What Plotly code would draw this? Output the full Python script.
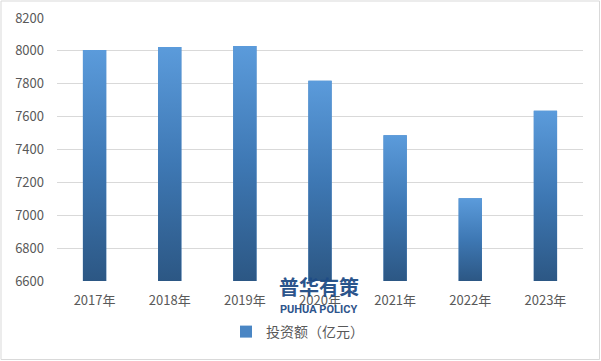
import plotly.graph_objects as go

categories = ["2017年", "2018年", "2019年", "2020年", "2021年", "2022年", "2023年"]
values = [8006, 8024, 8030, 7818, 7487, 7103, 7635]
series_name = "投资额（亿元）"
y_ticks = [6600, 6800, 7000, 7200, 7400, 7600, 7800, 8000, 8200]

Y_MIN, Y_MAX = 6600, 8200
BAR_W = 0.31
FONT = "Noto Sans CJK SC, Noto Sans, sans-serif"
TXT = "#595959"

fig = go.Figure()

idx = list(range(len(categories)))
fig.add_trace(go.Bar(
    x=idx, y=values, name=series_name, width=BAR_W,
    marker=dict(color="#4A86C4", line=dict(width=0)),
    showlegend=True,
))

# gradient overlay per bar, built from the same values
for i, v in zip(idx, values):
    fig.add_trace(go.Scatter(
        x=[i - BAR_W / 2, i + BAR_W / 2, i + BAR_W / 2, i - BAR_W / 2, i - BAR_W / 2],
        y=[Y_MIN, Y_MIN, v, v, Y_MIN],
        mode="lines", line=dict(width=0), fill="toself",
        fillgradient=dict(type="vertical",
                          colorscale=[[0, "#2C5784"], [0.5, "#3E78B4"], [1, "#5B9BDB"]]),
        showlegend=False, hoverinfo="skip",
    ))

W, H = 601, 361
ML, MR, MT, MB = 57, 18, 18, 80
PW, PH = W - ML - MR, H - MT - MB

fig.update_layout(
    width=W, height=H,
    margin=dict(l=ML, r=MR, t=MT, b=MB, autoexpand=False),
    paper_bgcolor="white", plot_bgcolor="white",
    font=dict(family=FONT, color=TXT, size=13),
    barmode="overlay",
    showlegend=True,
    legend=dict(orientation="h", x=(226 - ML) / PW, xanchor="left",
                y=(MT + PH - 332) / PH, yanchor="middle",
                font=dict(size=14, color=TXT), itemwidth=30,
                bgcolor="rgba(0,0,0,0)"),
    xaxis=dict(range=[-0.5, len(categories) - 0.5], tickvals=idx, ticktext=categories,
               showgrid=False, zeroline=False, showline=False, ticks="",
               tickfont=dict(size=13, color=TXT), ticklabelstandoff=10,
               automargin=False),
    yaxis=dict(range=[Y_MIN, Y_MAX], tickvals=y_ticks, showgrid=True,
               gridcolor="#D9D9D9", gridwidth=1, zeroline=False, showline=False,
               ticks="", tickfont=dict(size=13, color=TXT), ticklabelstandoff=12,
               automargin=False),
    shapes=[dict(type="rect", xref="paper", yref="paper",
                 x0=(1 - ML) / PW, x1=(599.5 - ML) / PW,
                 y0=(MT + PH - 359.5) / PH, y1=(MT + PH - 1) / PH,
                 line=dict(color="#D9D9D9", width=1), fillcolor="rgba(0,0,0,0)",
                 layer="below")],
    annotations=[
        dict(text="<b>普华有策</b>", xref="paper", yref="paper",
             x=(319 - ML) / PW, y=(MT + PH - 286) / PH, showarrow=False,
             font=dict(size=20, color="#1F4C86", family="Noto Sans CJK SC"),
             xanchor="center", yanchor="middle", opacity=0.95),
        dict(text="<b>PUHUA POLICY</b>", xref="paper", yref="paper",
             x=(318 - ML) / PW, y=(MT + PH - 309) / PH, showarrow=False,
             font=dict(size=11, color="#1F4C86", family="Roboto"),
             xanchor="center", yanchor="middle", opacity=0.95),
    ],
)

fig.write_html("out.html", config={"displayModeBar": False},
               post_script="document.body.style.margin='0';")
